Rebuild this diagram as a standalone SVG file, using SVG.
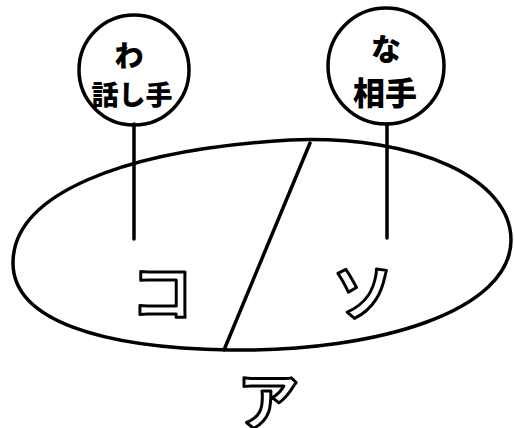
<svg xmlns="http://www.w3.org/2000/svg" width="514" height="428" viewBox="0 0 514 428">
<style>
.ln{fill:none;stroke:#000;stroke-width:3.5;stroke-linecap:round;stroke-linejoin:round}
.sm{font-family:"Noto Sans CJK JP",sans-serif;font-weight:900;fill:#000;text-anchor:middle;dominant-baseline:central}
.big{font-family:"Noto Sans CJK JP",sans-serif;font-weight:700;fill:#fff;stroke:#000;stroke-width:3;stroke-linejoin:round;text-anchor:middle;dominant-baseline:central}
</style>
<rect width="514" height="428" fill="#fff"/>
<g id="connectors">
<line class="ln" x1="134" y1="124" x2="134" y2="239" stroke-width="3"/>
<line class="ln" x1="387" y1="124" x2="387" y2="238" stroke-width="3"/>
</g>
<g id="oval">
<path class="ln" d="M 13 263 C 13 195, 120 150, 290 140 C 420 135, 511 180, 511 240 C 511 310, 380 352, 230 350 C 100 348, 13 320, 13 263 Z"/>
<line class="ln" x1="310" y1="143" x2="224" y2="350" stroke-width="3"/>
</g>
<g id="speaker">
<circle class="ln" cx="134" cy="70" r="55" stroke-width="4"/>
<text class="sm" x="129" y="54" font-size="29">わ</text>
<text class="sm" x="132" y="93" font-size="27">話し手</text>
</g>
<g id="listener">
<circle class="ln" cx="386" cy="66" r="58" stroke-width="4"/>
<text class="sm" x="386" y="47" font-size="30">な</text>
<text class="sm" x="385" y="91" font-size="32">相手</text>
</g>
<g id="ko"><text class="big" x="162" y="289" font-size="62">コ</text></g>
<g id="so"><text class="big" x="363" y="289" font-size="62">ソ</text></g>
<g id="a"><text class="big" x="268" y="398" font-size="62">ア</text></g>
</svg>
